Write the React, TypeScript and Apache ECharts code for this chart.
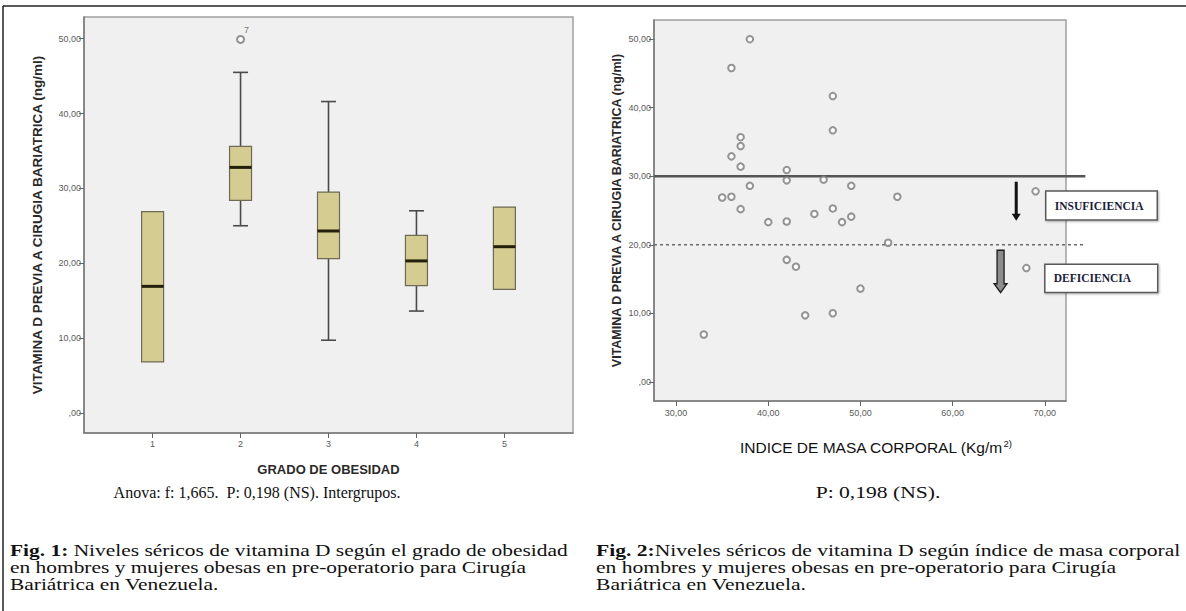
import React, { useEffect, useRef } from "react";
import * as echarts from "echarts";

// ---- Fig. 1: box plot data (vitamina D por grado de obesidad) ----
const boxCategories = [1, 2, 3, 4, 5];
const boxMin = [6.8, 25.0, 9.7, 13.6, 16.5];
const boxQ1 = [6.8, 28.4, 20.6, 17.0, 16.5];
const boxMedian = [16.9, 32.8, 24.3, 20.3, 22.2];
const boxQ3 = [26.9, 35.6, 29.5, 23.7, 27.5];
const boxMax = [26.9, 45.5, 41.6, 27.0, 27.5];
const outlierGroup = [2];
const outlierValue = [49.9];
const outlierCase = ["7"];

// ---- Fig. 2: scatter data (IMC vs vitamina D) ----
const bmi = [38, 36, 47, 47, 37, 37, 36, 37, 42, 42, 46, 38, 49, 35, 36, 37, 47, 45, 49, 40, 42, 48, 53, 54, 69, 68, 42, 43, 50, 44, 47, 33];
const vitD = [50.0, 45.8, 41.7, 36.7, 35.7, 34.4, 32.9, 31.4, 30.9, 29.4, 29.5, 28.6, 28.6, 26.9, 27.0, 25.2, 25.3, 24.5, 24.1, 23.3, 23.4, 23.3, 20.3, 27.0, 27.8, 16.6, 17.8, 16.8, 13.6, 9.7, 10.0, 6.9];

// thresholds
const insuficienciaLevel = 30;
const deficienciaLevel = 20;

// ticks
const vitTicks = [0, 10, 20, 30, 40, 50];
const vitTickLabels = [",00", "10,00", "20,00", "30,00", "40,00", "50,00"];
const bmiTicks = [30, 40, 50, 60, 70];
const bmiTickLabels = ["30,00", "40,00", "50,00", "60,00", "70,00"];

// annotations (data space of Fig. 2)
const arrowBmi = [66.9, 65.2];
const arrowFrom = [29.2, 19.2];
const arrowTo = [23.5, 13.0];
const labelTexts = ["INSUFICIENCIA", "DEFICIENCIA"];
const labelBmiLeft = [70.1, 70.0];
const labelBmiRight = [82.2, 82.25];
const labelVitTop = [27.85, 17.15];
const labelVitBottom = [23.6, 13.05];

const SANS = "Arial, 'Liberation Sans', sans-serif";
const SERIF = "'Liberation Serif', 'Times New Roman', serif";

export default function App() {
  const ref = useRef<HTMLDivElement>(null);

  useEffect(() => {
    if (!ref.current) return;
    const chart = echarts.init(ref.current, undefined, { renderer: "svg" });

    const boxData = boxCategories.map((c, i) => [c, boxMin[i], boxQ1[i], boxMedian[i], boxQ3[i], boxMax[i]]);
    const outData = outlierGroup.map((g, i) => [g, outlierValue[i]]);
    const scatterData = bmi.map((b, i) => [b, vitD[i]]);

    const axisLine = { show: true, onZero: false, lineStyle: { color: "#7a7a7a", width: 1.5 } };
    const tickLabel = { fontSize: 9, color: "#5a5a5a", fontFamily: SANS };

    const option: any = {
      animation: false,
      backgroundColor: "#ffffff",
      grid: [
        { left: 84, top: 17, width: 489, height: 416, show: true, backgroundColor: "#f0f0f0", borderColor: "#a0a0a0", borderWidth: 1.5 },
        { left: 654, top: 20, width: 412, height: 381, show: true, backgroundColor: "#f0f0f0", borderColor: "#a0a0a0", borderWidth: 1.5 },
      ],
      xAxis: [
        {
          type: "value", gridIndex: 0, min: 0.22, max: 5.78,
          name: "GRADO DE OBESIDAD", nameLocation: "middle", nameGap: 30,
          nameTextStyle: { fontSize: 13, fontWeight: "bold", color: "#2a2a2a", fontFamily: SANS },
          axisLine,
          axisTick: { show: true, length: 5, customValues: boxCategories, lineStyle: { color: "#666" } },
          axisLabel: { ...tickLabel, margin: 6, customValues: boxCategories, formatter: (v: number) => String(v) },
          splitLine: { show: false },
        },
        {
          type: "value", gridIndex: 1, min: 27.6, max: 72.3,
          axisLine,
          axisTick: { show: true, length: 5, customValues: bmiTicks, lineStyle: { color: "#666" } },
          axisLabel: {
            ...tickLabel, margin: 7, customValues: bmiTicks,
            formatter: (v: number) => bmiTickLabels[bmiTicks.indexOf(Math.round(v))] ?? "",
          },
          splitLine: { show: false },
        },
      ],
      yAxis: [
        {
          type: "value", gridIndex: 0, min: -2.7, max: 52.9,
          name: "VITAMINA D PREVIA A CIRUGIA BARIATRICA (ng/ml)", nameLocation: "middle", nameGap: 40, nameRotate: 90,
          nameTextStyle: { fontSize: 13.5, fontWeight: "bold", color: "#2a2a2a", fontFamily: SANS },
          axisLine,
          axisTick: { show: true, length: 5, customValues: vitTicks, lineStyle: { color: "#666" } },
          axisLabel: {
            ...tickLabel, margin: 3, customValues: vitTicks,
            formatter: (v: number) => vitTickLabels[vitTicks.indexOf(Math.round(v))] ?? "",
          },
          splitLine: { show: false },
        },
        {
          type: "value", gridIndex: 1, min: -2.8, max: 52.8,
          name: "VITAMINA D PREVIA A CIRUGIA BARIATRICA (ng/ml)", nameLocation: "middle", nameGap: 31, nameRotate: 90,
          nameTextStyle: { fontSize: 12.5, fontWeight: "bold", color: "#2a2a2a", fontFamily: SANS },
          axisLine,
          axisTick: { show: true, length: 5, customValues: vitTicks, lineStyle: { color: "#666" } },
          axisLabel: {
            ...tickLabel, margin: 3, customValues: vitTicks,
            formatter: (v: number) => vitTickLabels[vitTicks.indexOf(Math.round(v))] ?? "",
          },
          splitLine: { show: false },
        },
      ],
      series: [
        {
          type: "custom", name: "boxes", xAxisIndex: 0, yAxisIndex: 0, data: boxData,
          renderItem: (params: any, api: any) => {
            const x = api.value(0);
            const pMin = api.coord([x, api.value(1)]);
            const pQ1 = api.coord([x, api.value(2)]);
            const pMed = api.coord([x, api.value(3)]);
            const pQ3 = api.coord([x, api.value(4)]);
            const pMax = api.coord([x, api.value(5)]);
            const cx = pMed[0];
            const hw = 11;
            const cw = 7.5;
            const whisker = { stroke: "#4a4a4a", lineWidth: 1.6 };
            const children: any[] = [];
            if (pMax[1] < pQ3[1] - 0.5) {
              children.push({ type: "line", shape: { x1: cx, y1: pMax[1], x2: cx, y2: pQ3[1] }, style: whisker });
              children.push({ type: "line", shape: { x1: cx - cw, y1: pMax[1], x2: cx + cw, y2: pMax[1] }, style: whisker });
            }
            if (pMin[1] > pQ1[1] + 0.5) {
              children.push({ type: "line", shape: { x1: cx, y1: pQ1[1], x2: cx, y2: pMin[1] }, style: whisker });
              children.push({ type: "line", shape: { x1: cx - cw, y1: pMin[1], x2: cx + cw, y2: pMin[1] }, style: whisker });
            }
            children.push({
              type: "rect",
              shape: { x: cx - hw, y: pQ3[1], width: hw * 2, height: pQ1[1] - pQ3[1] },
              style: { fill: "#d4cc91", stroke: "#6e6a55", lineWidth: 1.2 },
            });
            children.push({
              type: "line",
              shape: { x1: cx - hw, y1: pMed[1], x2: cx + hw, y2: pMed[1] },
              style: { stroke: "#231f0a", lineWidth: 3 },
            });
            return { type: "group", children };
          },
        },
        {
          type: "scatter", name: "atípico", xAxisIndex: 0, yAxisIndex: 0, data: outData,
          symbol: "emptyCircle", symbolSize: 7,
          itemStyle: { color: "#777", borderWidth: 1.2 },
          label: {
            show: true, position: [8, -9], fontSize: 9, color: "#555", fontFamily: SANS,
            formatter: (p: any) => outlierCase[p.dataIndex],
          },
        },
        {
          type: "scatter", name: "IMC", xAxisIndex: 1, yAxisIndex: 1, data: scatterData,
          symbol: "emptyCircle", symbolSize: 6.5,
          itemStyle: { color: "#7a7a7a", borderWidth: 1.2 },
          z: 5,
        },
        {
          type: "custom", name: "umbrales", xAxisIndex: 1, yAxisIndex: 1, clip: false,
          data: [[27.6, 74.4, insuficienciaLevel], [27.6, 74.4, deficienciaLevel]],
          renderItem: (params: any, api: any) => {
            const a = api.coord([api.value(0), api.value(2)]);
            const b = api.coord([api.value(1), api.value(2)]);
            const solid = params.dataIndex === 0;
            return {
              type: "line",
              shape: { x1: a[0], y1: a[1], x2: b[0], y2: b[1] },
              style: solid
                ? { stroke: "#555", lineWidth: 2.5 }
                : { stroke: "#6a6a6a", lineWidth: 1.6, lineDash: [3, 3] },
            };
          },
          z: 3,
        },
        {
          type: "custom", name: "flechas", xAxisIndex: 1, yAxisIndex: 1, clip: false,
          data: arrowBmi.map((b, i) => [b, arrowFrom[i], arrowTo[i]]),
          renderItem: (params: any, api: any) => {
            const top = api.coord([api.value(0), api.value(1)]);
            const bot = api.coord([api.value(0), api.value(2)]);
            const cx = top[0];
            if (params.dataIndex === 0) {
              return {
                type: "group",
                children: [
                  { type: "line", shape: { x1: cx, y1: top[1], x2: cx, y2: bot[1] - 6 }, style: { stroke: "#111", lineWidth: 3 } },
                  { type: "polygon", shape: { points: [[cx - 4.5, bot[1] - 7], [cx + 4.5, bot[1] - 7], [cx, bot[1]]] }, style: { fill: "#111" } },
                ],
              };
            }
            const hb = bot[1] - 9;
            return {
              type: "polygon",
              shape: {
                points: [[cx - 3.5, top[1]], [cx + 3.5, top[1]], [cx + 3.5, hb], [cx + 6.5, hb], [cx, bot[1]], [cx - 6.5, hb], [cx - 3.5, hb]],
              },
              style: { fill: "#8c8c8c", stroke: "#1a1a1a", lineWidth: 1.3 },
            };
          },
          z: 6,
        },
        {
          type: "custom", name: "etiquetas", xAxisIndex: 1, yAxisIndex: 1, clip: false,
          data: labelTexts.map((t, i) => [labelBmiLeft[i], labelBmiRight[i], labelVitTop[i], labelVitBottom[i]]),
          renderItem: (params: any, api: any) => {
            const tl = api.coord([api.value(0), api.value(2)]);
            const br = api.coord([api.value(1), api.value(3)]);
            return {
              type: "group",
              children: [
                {
                  type: "rect",
                  shape: { x: tl[0], y: tl[1], width: br[0] - tl[0], height: br[1] - tl[1] },
                  style: { fill: "#ffffff", stroke: "#5a5a5a", lineWidth: 1.5, shadowBlur: 2, shadowColor: "rgba(0,0,0,0.3)", shadowOffsetX: 1, shadowOffsetY: 1 },
                },
                {
                  type: "text",
                  style: {
                    text: labelTexts[params.dataIndex], x: tl[0] + 9, y: (tl[1] + br[1]) / 2,
                    verticalAlign: "middle", align: "left",
                    fontSize: 11.5, fontWeight: "bold", fontFamily: SERIF, fill: "#1c1c3a",
                  },
                },
              ],
            };
          },
          z: 6,
        },
      ],
      graphic: [
        { type: "line", shape: { x1: 3, y1: 6, x2: 1186, y2: 6 }, style: { stroke: "#222", lineWidth: 1.5 } },
        { type: "line", shape: { x1: 3, y1: 6, x2: 3, y2: 611 }, style: { stroke: "#222", lineWidth: 1.5 } },
        {
          type: "text", x: 740, y: 447,
          style: {
            text: "{n|INDICE DE MASA CORPORAL (Kg/m}{s|2)}",
            verticalAlign: "middle", align: "left",
            rich: {
              n: { fontSize: 15.5, fontFamily: SANS, fill: "#111", lineHeight: 18 },
              s: { fontSize: 9.5, fontFamily: SANS, fill: "#111", lineHeight: 12, verticalAlign: "top" },
            },
          },
        },
        {
          type: "text", x: 257, y: 492,
          style: { text: "Anova: f: 1,665.  P: 0,198 (NS). Intergrupos.", align: "center", verticalAlign: "middle", fontSize: 16, fontFamily: SERIF, fill: "#111" },
        },
        {
          type: "text", x: 878, y: 492, scaleX: 1.27,
          style: { text: "P: 0,198 (NS).", align: "center", verticalAlign: "middle", fontSize: 17, fontFamily: SERIF, fill: "#111" },
        },
        {
          type: "text", x: 10, y: 542, scaleX: 1.26,
          style: {
            text: "{b|Fig. 1:}{r| Niveles séricos de vitamina D según el grado de obesidad}\n{r|en hombres y mujeres obesas en pre-operatorio para Cirugía}\n{r|Bariátrica en Venezuela.}",
            align: "left", verticalAlign: "top",
            rich: {
              b: { fontSize: 17, fontWeight: "bold", fontFamily: SERIF, fill: "#111", lineHeight: 17 },
              r: { fontSize: 17, fontFamily: SERIF, fill: "#111", lineHeight: 17 },
            },
          },
        },
        {
          type: "text", x: 596, y: 542, scaleX: 1.27,
          style: {
            text: "{b|Fig. 2:}{r|Niveles séricos de vitamina D según índice de masa corporal}\n{r|en hombres y mujeres obesas en pre-operatorio para Cirugía}\n{r|Bariátrica en Venezuela.}",
            align: "left", verticalAlign: "top",
            rich: {
              b: { fontSize: 17, fontWeight: "bold", fontFamily: SERIF, fill: "#111", lineHeight: 17 },
              r: { fontSize: 17, fontFamily: SERIF, fill: "#111", lineHeight: 17 },
            },
          },
        },
      ],
    };

    chart.setOption(option);
    return () => chart.dispose();
  }, []);

  return <div ref={ref} style={{ position: "absolute", left: 0, top: 0, width: 1186, height: 611, background: "#fff" }} />;
}
